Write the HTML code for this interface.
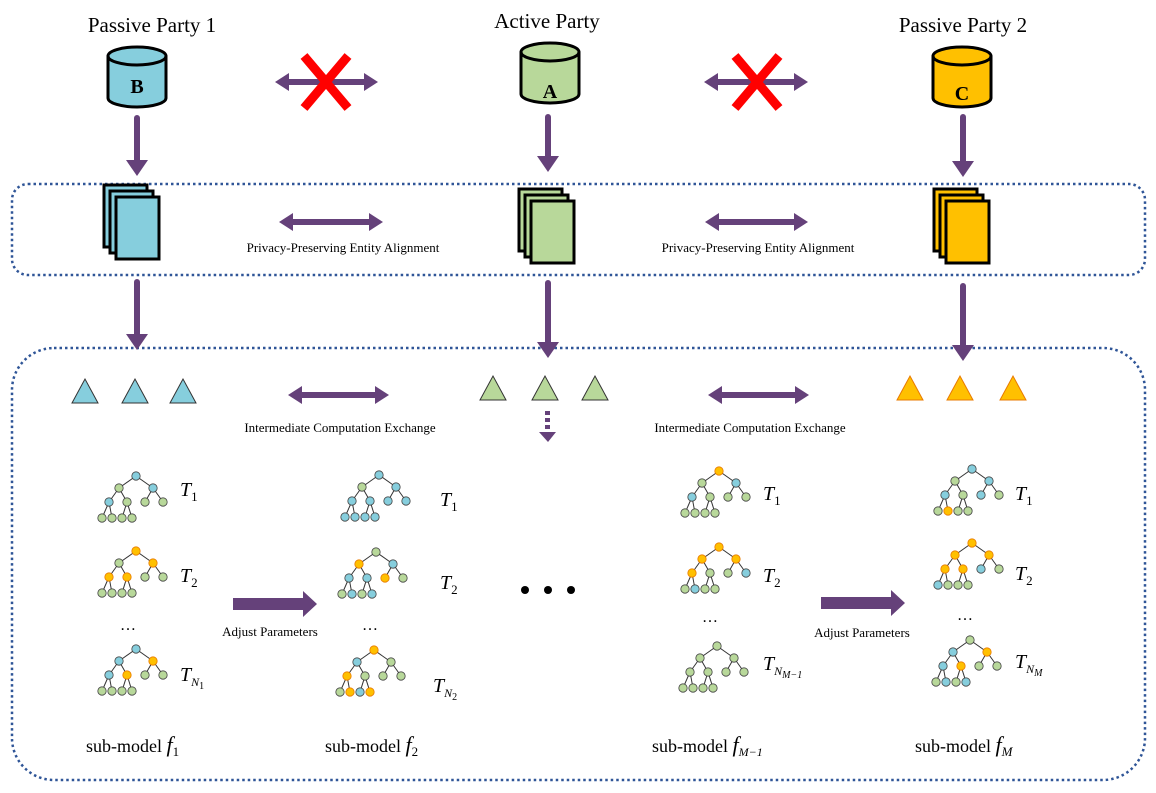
<!DOCTYPE html>
<html><head><meta charset="utf-8"><style>
body{margin:0;background:#fff;}
svg text{font-family:"Liberation Serif",serif;}
</style></head><body>
<svg id="s" width="1156" height="788" xmlns="http://www.w3.org/2000/svg">
<text x="152" y="32" font-size="21" text-anchor="middle">Passive Party 1</text>
<text x="547" y="28" font-size="21" text-anchor="middle">Active Party</text>
<text x="963" y="32" font-size="21" text-anchor="middle">Passive Party 2</text>

<rect x="12" y="184" width="1133" height="91" rx="16" fill="none" stroke="#2f5597" stroke-width="2.5" stroke-dasharray="2.5,3"/>
<rect x="12" y="348" width="1133" height="432" rx="42" fill="none" stroke="#2f5597" stroke-width="2.5" stroke-dasharray="2.5,3"/>

<g id="g"></g>

<text x="343" y="252" font-size="13" text-anchor="middle">Privacy-Preserving Entity Alignment</text>
<text x="758" y="252" font-size="13" text-anchor="middle">Privacy-Preserving Entity Alignment</text>
<text x="340" y="432" font-size="13" text-anchor="middle">Intermediate Computation Exchange</text>
<text x="750" y="432" font-size="13" text-anchor="middle">Intermediate Computation Exchange</text>
<text x="270" y="636" font-size="13" text-anchor="middle">Adjust Parameters</text>
<text x="862" y="637" font-size="13" text-anchor="middle">Adjust Parameters</text>

<g id="letters" font-size="20" font-weight="bold" text-anchor="middle">
<text x="137" y="93">B</text>
<text x="550" y="98">A</text>
<text x="962" y="100">C</text>
</g>

<g font-size="20" font-style="italic">
<text x="180" y="496">T<tspan font-size="13" font-style="normal" dy="5">1</tspan></text>
<text x="180" y="582">T<tspan font-size="13" font-style="normal" dy="5">2</tspan></text>
<text x="180" y="681">T<tspan font-size="12" dy="5">N</tspan><tspan font-size="10" font-style="normal" dy="3">1</tspan></text>
<text x="440" y="506">T<tspan font-size="13" font-style="normal" dy="5">1</tspan></text>
<text x="440" y="589">T<tspan font-size="13" font-style="normal" dy="5">2</tspan></text>
<text x="433" y="692">T<tspan font-size="12" dy="5">N</tspan><tspan font-size="10" font-style="normal" dy="3">2</tspan></text>
<text x="763" y="500">T<tspan font-size="13" font-style="normal" dy="5">1</tspan></text>
<text x="763" y="582">T<tspan font-size="13" font-style="normal" dy="5">2</tspan></text>
<text x="763" y="670">T<tspan font-size="12" dy="5">N</tspan><tspan font-size="10" dy="3">M−1</tspan></text>
<text x="1015" y="500">T<tspan font-size="13" font-style="normal" dy="5">1</tspan></text>
<text x="1015" y="580">T<tspan font-size="13" font-style="normal" dy="5">2</tspan></text>
<text x="1015" y="668">T<tspan font-size="12" dy="5">N</tspan><tspan font-size="10" dy="3">M</tspan></text>
</g>
<g font-size="18">
<text x="86" y="752">sub-model <tspan font-style="italic" font-size="22">f</tspan><tspan font-size="13" dy="4">1</tspan></text>
<text x="325" y="752">sub-model <tspan font-style="italic" font-size="22">f</tspan><tspan font-size="13" dy="4">2</tspan></text>
<text x="652" y="752">sub-model <tspan font-style="italic" font-size="22">f</tspan><tspan font-size="12" font-style="italic" dy="4">M−1</tspan></text>
<text x="915" y="752">sub-model <tspan font-style="italic" font-size="22">f</tspan><tspan font-size="13" font-style="italic" dy="4">M</tspan></text>
</g>
<g font-size="16">
<text x="120" y="630">…</text><text x="362" y="630">…</text><text x="702" y="622">…</text><text x="957" y="620">…</text>
</g>
<circle cx="525" cy="590" r="4" fill="#000"/><circle cx="548" cy="590" r="4" fill="#000"/><circle cx="571" cy="590" r="4" fill="#000"/>
</svg>
<script>
const NS="http://www.w3.org/2000/svg",g=document.getElementById('g');
function el(t,a){const e=document.createElementNS(NS,t);for(const k in a)e.setAttribute(k,a[k]);g.appendChild(e);return e;}
const P="#65417a",B="#86cedd",G="#b8d89a",O="#ffc000";
function cyl(cx,top,c){const w=29,h=60,r=9;el('path',{d:`M${cx-w},${top+r} L${cx-w},${top+h-r} A${w},${r} 0 0 0 ${cx+w},${top+h-r} L${cx+w},${top+r} A${w},${r} 0 0 0 ${cx-w},${top+r} A${w},${r} 0 0 0 ${cx+w},${top+r}`,fill:c,stroke:'#000','stroke-width':3});}
cyl(137,47,B);cyl(550,43,G);cyl(962,47,O);
function docs(x,y,c){for(let i=0;i<3;i++)el('rect',{x:x+i*6,y:y+i*6,width:43,height:62,fill:c,stroke:'#000','stroke-width':3});}
docs(104,185,B);docs(519,189,G);docs(934,189,O);
function va(x,y1,y2){el('line',{x1:x,y1:y1,x2:x,y2:y2-14,stroke:P,'stroke-width':6,'stroke-linecap':'round'});el('path',{d:`M${x-11},${y2-16} L${x+11},${y2-16} L${x},${y2}z`,fill:P});}
va(137,118,176);va(548,117,172);va(963,117,177);
va(137,282,350);va(548,283,358);va(963,286,361);
function da(x1,x2,y){el('line',{x1:x1+12,y1:y,x2:x2-12,y2:y,stroke:P,'stroke-width':6});el('path',{d:`M${x1},${y} L${x1+14},${y-9} L${x1+14},${y+9}z`,fill:P});el('path',{d:`M${x2},${y} L${x2-14},${y-9} L${x2-14},${y+9}z`,fill:P});}
da(275,378,82);da(704,808,82);da(279,383,222);da(705,808,222);da(288,389,395);da(708,809,395);
function X(cx,cy){el('path',{d:`M${cx-22},${cy-26} L${cx+22},${cy+26} M${cx+22},${cy-26} L${cx-22},${cy+26}`,stroke:'#ff0000','stroke-width':9});}
X(326,82);X(757,82);
for(let i=0;i<3;i++)el('rect',{x:545,y:411+i*7,width:5,height:4,fill:P});
el('path',{d:'M539,432 L556,432 L548,442z',fill:P});
function ba(x1,x2,y){el('path',{d:`M${x1},${y-6} L${x2-14},${y-6} L${x2-14},${y-13} L${x2},${y} L${x2-14},${y+13} L${x2-14},${y+6} L${x1},${y+6}z`,fill:P});}
ba(233,317,604);ba(821,905,603);
function tri(cx,yb,c,s){el('path',{d:`M${cx-13},${yb} L${cx+13},${yb} L${cx},${yb-24}z`,fill:c,stroke:s,'stroke-width':1});}
[85,135,183].forEach(x=>tri(x,403,B,'#333'));[493,545,595].forEach(x=>tri(x,400,G,'#333'));[910,960,1013].forEach(x=>tri(x,400,O,'#e87a00'));
function tree(rx,ry,cols){const n=[[0,0],[-17,12],[17,12],[-27,26],[-9,26],[9,26],[27,26],[-34,42],[-24,42],[-14,42],[-4,42]];
const par=[-1,0,0,1,1,2,2,3,3,4,4];
for(let i=1;i<n.length;i++){const p=n[par[i]];el('line',{x1:rx+p[0],y1:ry+p[1],x2:rx+n[i][0],y2:ry+n[i][1],stroke:'#333','stroke-width':1});}
n.forEach((q,i)=>{const c=cols[i]||G;el('circle',{cx:rx+q[0],cy:ry+q[1],r:4.2,fill:c,stroke:c==O?'#e87a00':'#444','stroke-width':0.8});});}
const b=B,gg=G,o=O;
tree(136,476,[b,gg,b,b,gg,gg,gg,gg,gg,gg,gg]);
tree(136,551,[o,gg,o,o,o,gg,gg,gg,gg,gg,gg]);
tree(136,649,[b,b,o,b,o,gg,gg,gg,gg,gg,gg]);
tree(379,475,[b,gg,b,b,b,b,b,b,b,b,b]);
tree(376,552,[gg,o,b,b,b,o,gg,gg,b,gg,b]);
tree(374,650,[o,b,gg,o,gg,gg,gg,gg,o,b,o]);
tree(719,471,[o,gg,b,b,gg,gg,gg,gg,gg,gg,gg]);
tree(719,547,[o,o,o,o,gg,gg,b,gg,b,gg,gg]);
tree(717,646,[gg,gg,gg,gg,gg,gg,gg,gg,gg,gg,gg]);
tree(972,469,[b,gg,b,b,gg,b,gg,gg,o,gg,gg]);
tree(972,543,[o,o,o,o,o,b,gg,b,gg,gg,gg]);
tree(970,640,[gg,b,o,b,o,gg,gg,gg,b,gg,b]);
// bring letters to front
document.getElementById('s').appendChild(document.getElementById('letters'));
</script>
</body></html>
